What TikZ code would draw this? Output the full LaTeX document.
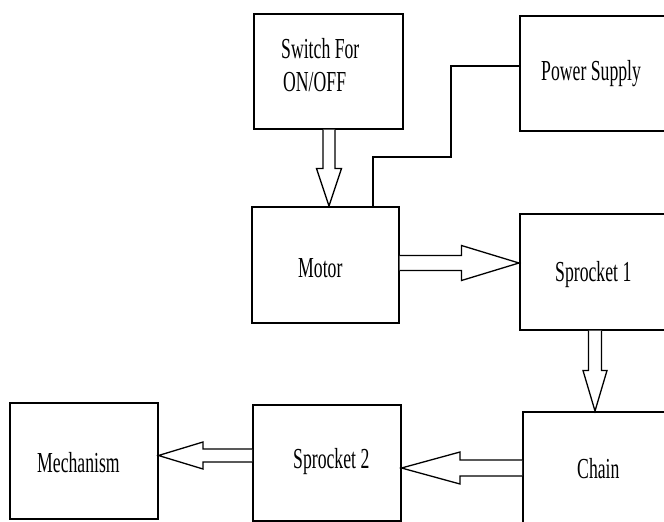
\documentclass[tikz,border=0pt]{standalone}
\usepackage{fontspec}
\setmainfont[FakeStretch=0.61]{Liberation Serif}
\usetikzlibrary{calc}
\begin{document}
\begin{tikzpicture}[x=1pt,y=-1pt,
  box/.style={draw=black,line width=1.5pt,fill=white,inner sep=0pt,anchor=north west},
  lbl/.style={inner sep=0pt,anchor=base west,font=\fontsize{29}{33}\selectfont},
  blk/.style={draw=black,line width=1.3pt,fill=white,line join=miter},
  wire/.style={draw=black,line width=1.3pt}]
\useasboundingbox (0,0) rectangle (664,522);
\clip (0,0) rectangle (664,522);
% boxes
\node[box,minimum width=149pt,minimum height=115pt] (sw) at (253,13) {};
\node[box,minimum width=160pt,minimum height=115pt] (ps) at (519,15) {};
\node[box,minimum width=147pt,minimum height=116pt] (motor) at (251,206) {};
\node[box,minimum width=160pt,minimum height=116pt] (sp1) at (519,213) {};
\node[box,minimum width=148pt,minimum height=116pt] (mech) at (9,402) {};
\node[box,minimum width=148pt,minimum height=116pt] (sp2) at (252,404) {};
\node[box,minimum width=160pt,minimum height=130pt] (chain) at (522,411) {};
% labels
\node[lbl] (t1) at (281,58) {Switch For};
\node[lbl] (t2) at (283,91) {ON/OFF};
\node[lbl] (t3) at (541,80) {Power Supply};
\node[lbl] (t4) at (298,277) {Motor};
\node[lbl] (t5) at (555,281) {Sprocket 1};
\node[lbl] (t6) at (37,472) {Mechanism};
\node[lbl] (t7) at (293,468) {Sprocket 2};
\node[lbl] (t8) at (577,478) {Chain};
% power wire
\coordinate (p1) at ($(ps.north west)+(0,51)$);
\coordinate (m1) at ($(motor.north west)+(122,0)$);
\draw[wire] (p1) -- ++(-68,0) |- ($(m1)+(0,-49)$) -- (m1);
% switch -> motor
\coordinate (c1) at ($(sw.south west)+(76,0)$);
\draw[blk] ($(c1)+(-6,0)$) -- ++(0,39) -- ++(-6.5,0) -- (c1 |- motor.north)
  -- ($(c1)+(12.5,39)$) -- ++(-6.5,0) -- ($(c1)+(6,0)$);
% motor -> sprocket 1
\coordinate (c2) at ($(motor.north east)+(0,57)$);
\draw[blk] ($(c2)+(0,-7.5)$) -- ++(62,0) -- ++(0,-10) -- (c2 -| sp1.west)
  -- ($(c2)+(62,17.5)$) -- ++(0,-10) -- ($(c2)+(0,7.5)$);
% sprocket 1 -> chain
\coordinate (c3) at ($(sp1.south west)+(76,0)$);
\draw[blk] ($(c3)+(-6.5,0)$) -- ++(0,40) -- ++(-5.5,0) -- (c3 |- chain.north)
  -- ($(c3)+(12,40)$) -- ++(-5.5,0) -- ($(c3)+(6.5,0)$);
% chain -> sprocket 2
\coordinate (c4) at ($(chain.north west)+(0,57)$);
\draw[blk] ($(c4)+(0,-8)$) -- ++(-62,0) -- ++(0,-8) -- (c4 -| sp2.east)
  -- ($(c4)+(-62,16)$) -- ++(0,-8) -- ($(c4)+(0,8)$);
% sprocket 2 -> mechanism
\coordinate (c5) at ($(sp2.north west)+(0,51.5)$);
\draw[blk] ($(c5)+(0,-6.5)$) -- ++(-49,0) -- ++(0,-7) -- (c5 -| mech.east)
  -- ($(c5)+(-49,13.5)$) -- ++(0,-7) -- ($(c5)+(0,6.5)$);
\end{tikzpicture}
\end{document}
